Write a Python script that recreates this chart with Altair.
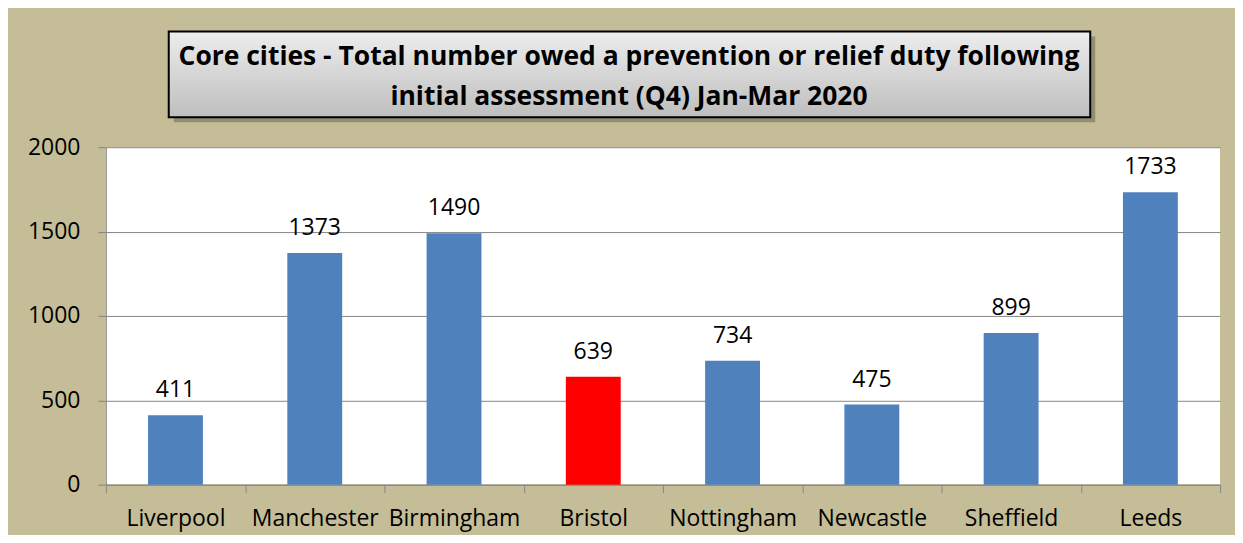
import altair as alt
import pandas as pd

cities = ["Liverpool", "Manchester", "Birmingham", "Bristol", "Nottingham", "Newcastle", "Sheffield", "Leeds"]
values = [411, 1373, 1490, 639, 734, 475, 899, 1733]
colors = ["#4F81BD", "#4F81BD", "#4F81BD", "#FF0000", "#4F81BD", "#4F81BD", "#4F81BD", "#4F81BD"]
y_ticks = [0, 500, 1000, 1500, 2000]
title_lines = ["Core cities - Total number owed a prevention or relief duty following",
               "initial assessment (Q4) Jan-Mar 2020"]

df = pd.DataFrame({"city": cities, "value": values, "color": colors})
FONT = "Open Sans"
FS = 23

x_enc = alt.X("city:N", sort=None,
              scale=alt.Scale(paddingInner=0, paddingOuter=0),
              axis=alt.Axis(title=None, labelAngle=0, labelFontSize=FS, labelFont=FONT,
                            labelColor="black", tickBand="extent", tickSize=8,
                            tickColor="#868686", domainColor="#868686", labelPadding=15,
                            grid=False))
y_enc = alt.Y("value:Q", scale=alt.Scale(domain=[0, 2000]),
              axis=alt.Axis(title=None, values=y_ticks, format="d", labelFontSize=FS, labelFont=FONT,
                            labelColor="black", tickSize=8, tickColor="#868686",
                            domainColor="#868686", gridColor="#868686", labelPadding=18))

base = alt.Chart(df)
bars = base.mark_bar(width=alt.RelativeBandSize(0.394)).encode(
    x=x_enc, y=y_enc, color=alt.Color("color:N", scale=None))
labels = base.mark_text(fontSize=FS, font=FONT, color="black", dy=-18, baseline="alphabetic").encode(
    x=alt.X("city:N", sort=None), y="value:Q", text="value:Q")

tdf = pd.DataFrame({"t": ["\n".join(title_lines)]})
tbase = alt.Chart(tdf)
shadow = tbase.mark_rect(fill="#000000", opacity=0.25).encode(
    x=alt.value(68), x2=alt.value(991), y=alt.value(-111), y2=alt.value(-25))
box = tbase.mark_rect(
    fill=alt.LinearGradient(gradient="linear", x1=0, x2=0, y1=0, y2=1,
                            stops=[alt.GradientStop(color="#EDEDED", offset=0),
                                   alt.GradientStop(color="#BEBEBE", offset=1)]),
    stroke="black", strokeWidth=2).encode(
    x=alt.value(63), x2=alt.value(986), y=alt.value(-116), y2=alt.value(-30))
ttext = tbase.mark_text(font=FONT, fontSize=26.5, fontWeight="bold", color="black",
                        lineBreak="\n", lineHeight=40, baseline="middle", align="center").encode(
    x=alt.value(524), y=alt.value(-90), text="t:N")

chart = alt.layer(bars, labels, shadow, box, ttext).properties(
    width=1116, height=338,
    autosize="none",
    padding={"left": 98, "top": 139, "right": 15, "bottom": 50},
    background="#C4BD97",
).configure_view(strokeWidth=0, fill="white")

chart.save("out.html", embed_options={"renderer": "svg", "actions": False})
